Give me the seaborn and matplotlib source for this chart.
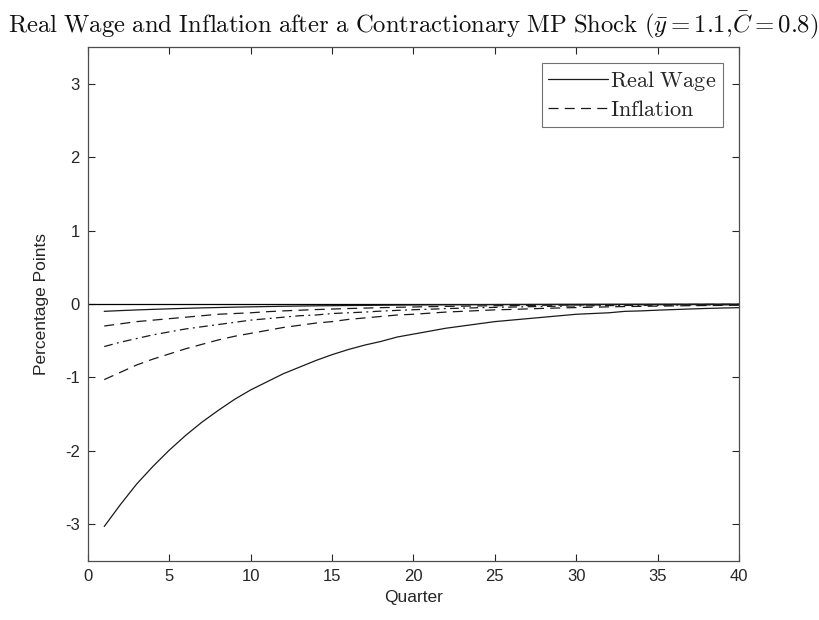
import numpy as np
import pandas as pd
import matplotlib
matplotlib.use("Agg")
import matplotlib.pyplot as plt
import seaborn as sns

# Impulse responses to a contractionary monetary policy shock, quarters 1..40
quarters = list(range(1, 41))

real_wage = [-3.03, -2.73, -2.45, -2.21, -1.99, -1.79, -1.61, -1.45, -1.30, -1.17,
             -1.06, -0.95, -0.86, -0.77, -0.69, -0.62, -0.56, -0.51, -0.45, -0.41,
             -0.37, -0.33, -0.30, -0.27, -0.24, -0.22, -0.20, -0.18, -0.16, -0.14,
             -0.13, -0.12, -0.10, -0.094, -0.084, -0.076, -0.068, -0.061, -0.055, -0.050]

inflation = [-1.03, -0.93, -0.83, -0.75, -0.68, -0.61, -0.55, -0.49, -0.44, -0.40,
             -0.36, -0.32, -0.29, -0.26, -0.24, -0.21, -0.19, -0.17, -0.15, -0.14,
             -0.125, -0.11, -0.10, -0.09, -0.08, -0.074, -0.067, -0.060, -0.054, -0.049,
             -0.044, -0.039, -0.035, -0.032, -0.029, -0.026, -0.023, -0.021, -0.019, -0.017]

inflation_b = [-0.58, -0.52, -0.47, -0.42, -0.38, -0.34, -0.31, -0.28, -0.25, -0.22,
               -0.20, -0.18, -0.16, -0.15, -0.13, -0.12, -0.11, -0.097, -0.087, -0.078,
               -0.071, -0.063, -0.057, -0.051, -0.046, -0.042, -0.037, -0.034, -0.030, -0.027,
               -0.025, -0.022, -0.020, -0.018, -0.016, -0.015, -0.013, -0.012, -0.011, -0.0095]

inflation_c = [-0.30, -0.27, -0.24, -0.22, -0.20, -0.18, -0.16, -0.14, -0.13, -0.12,
               -0.105, -0.094, -0.085, -0.076, -0.069, -0.062, -0.056, -0.050, -0.045, -0.041,
               -0.036, -0.033, -0.030, -0.027, -0.024, -0.022, -0.019, -0.017, -0.016, -0.014,
               -0.013, -0.011, -0.010, -0.009, -0.008, -0.0075, -0.0068, -0.006, -0.0055, -0.005]

real_wage_b = [-0.10, -0.09, -0.081, -0.073, -0.066, -0.059, -0.053, -0.048, -0.043, -0.039,
               -0.035, -0.031, -0.028, -0.025, -0.023, -0.021, -0.019, -0.017, -0.015, -0.0135,
               -0.012, -0.011, -0.010, -0.009, -0.008, -0.007, -0.0065, -0.006, -0.005, -0.0047,
               -0.0042, -0.0038, -0.0034, -0.0031, -0.0028, -0.0025, -0.0023, -0.002, -0.0018, -0.0016]

x_ticks = [0, 5, 10, 15, 20, 25, 30, 35, 40]
y_ticks = [-3, -2, -1, 0, 1, 2, 3]

sns.set_theme(style="white")
plt.rcParams["font.family"] = ["Liberation Sans", "DejaVu Sans"]
plt.rcParams["mathtext.fontset"] = "cm"
plt.rcParams["axes.unicode_minus"] = False

fig = plt.figure(figsize=(8.19, 6.2), dpi=100)
ax = fig.add_axes([0.1074, 0.0952, 0.7949, 0.829])

dark = "#262626"
lw = 0.9

ax.axhline(0, color="black", lw=lw, zorder=1)

series = [
    (real_wage, "-", "Real Wage"),
    (inflation, (0, (8, 5)), "Inflation"),
    (inflation_b, (0, (7, 3.5, 1.5, 3.5)), None),
    (inflation_c, (0, (8, 5)), None),
    (real_wage_b, "-", None),
]
for vals, ls, lab in series:
    df = pd.DataFrame({"Quarter": quarters, "value": vals})
    sns.lineplot(data=df, x="Quarter", y="value", ax=ax, color="#1a1a1a",
                 lw=lw, linestyle=ls, label=lab, legend=False)

ax.set_xlim(0, 40)
ax.set_ylim(-3.5, 3.5)
ax.set_xticks(x_ticks)
ax.set_yticks(y_ticks)
ax.tick_params(direction="in", length=5, width=0.8, colors=dark, labelsize=12,
               top=True, right=True, bottom=True, left=True, pad=6)
for sp in ax.spines.values():
    sp.set_color("#4d4d4d")
    sp.set_linewidth(0.9)
    sp.set_visible(True)

ax.set_xlabel("Quarter", fontsize=12.5, color=dark, labelpad=4)
ax.set_ylabel("Percentage Points", fontsize=12.5, color=dark, labelpad=11)

ax.set_title(r"$\mathrm{Real\ Wage\ and\ Inflation\ after\ a\ Contractionary\ MP\ Shock}\ (\bar{y}=1.1{,}\bar{C}=0.8)$",
             fontsize=17.8, color="#111111", pad=10)

leg = ax.legend(loc="upper right", frameon=True, fancybox=False,
                handlelength=2.7, handletextpad=0.1, borderpad=0.3, labelspacing=0.25,
                borderaxespad=0.7, prop={"family": "serif", "size": 16})
for t in leg.get_texts():
    t.set_text(r"$\mathrm{" + t.get_text().replace(" ", r"\ ") + "}$")
leg.get_frame().set_edgecolor("#4d4d4d")
leg.get_frame().set_linewidth(0.8)

fig.savefig("out.png", dpi=100)
